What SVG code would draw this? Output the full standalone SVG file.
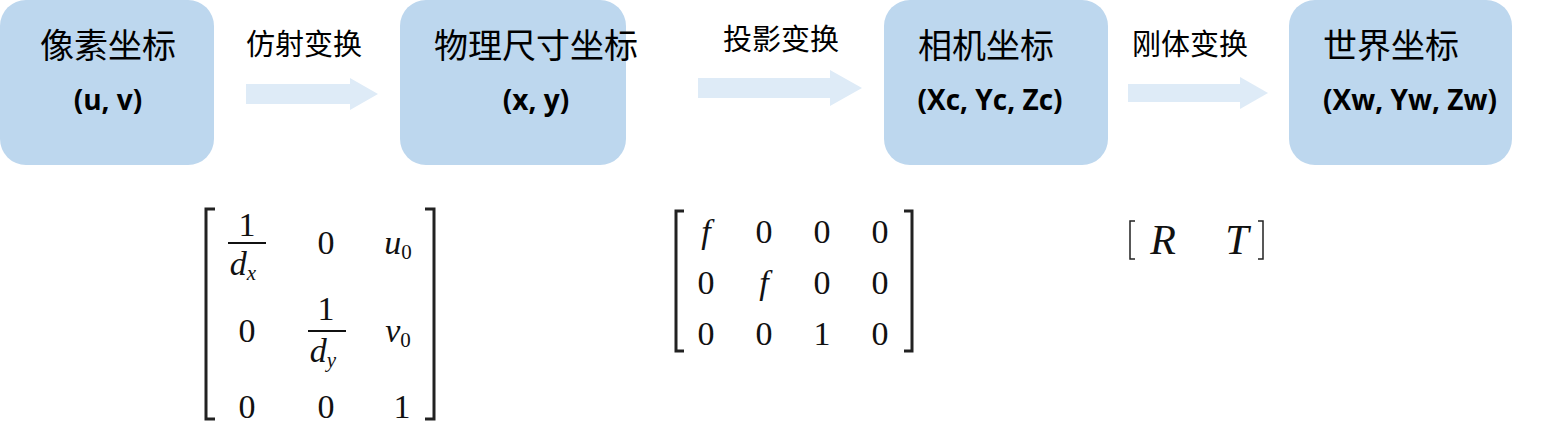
<svg xmlns="http://www.w3.org/2000/svg" width="1550" height="431" viewBox="0 0 1550 431">
<style>
.box{fill:#BDD7EE}
.arr{fill:#DEEBF7}
.t{font-family:"Noto Sans CJK SC","Noto Sans",sans-serif;font-size:34px;fill:#000;text-anchor:middle}
.s{font-family:"Open Sans","Noto Sans",sans-serif;font-weight:bold;font-size:28px;fill:#000;text-anchor:middle}
.l{font-family:"Noto Sans CJK SC",sans-serif;font-size:29px;fill:#000;text-anchor:middle}
.m{font-family:"Liberation Serif","DejaVu Serif",serif;font-size:34px;fill:#111;text-anchor:middle}
.mi{font-style:italic}
.sub{font-size:21px}
.br{fill:none;stroke:#222;stroke-width:3}
.big{font-size:42px}
.thin{stroke-width:1.5}
</style>
<rect width="1550" height="431" fill="#fff"/>
<g id="connectors">
<polygon class="arr" points="246,84 350,84 350,78 378,94 350,110 350,104 246,104"/>
<polygon class="arr" points="698,78 830,78 830,70 862,88 830,106 830,98 698,98"/>
<polygon class="arr" points="1128,84 1240,84 1240,77 1268,93 1240,109 1240,102 1128,102"/>
<text class="l" x="304" y="55">仿射变换</text>
<text class="l" x="781" y="50">投影变换</text>
<text class="l" x="1190" y="55">刚体变换</text>
</g>
<g id="n1"><rect class="box" x="0" y="0" width="214" height="165" rx="26"/><text class="t" x="108" y="58">像素坐标</text><text class="s" x="108" y="110">(u, v)</text></g>
<g id="n2"><rect class="box" x="400" y="0" width="226" height="165" rx="26"/><text class="t" x="536" y="58">物理尺寸坐标</text><text class="s" x="536" y="110">(x, y)</text></g>
<g id="n3"><rect class="box" x="884" y="0" width="224" height="165" rx="26"/><text class="t" x="986" y="58">相机坐标</text><text class="s" x="990" y="110">(Xc, Yc, Zc)</text></g>
<g id="n4"><rect class="box" x="1289" y="0" width="223" height="165" rx="26"/><text class="t" x="1391" y="58">世界坐标</text><text class="s" x="1410" y="110">(Xw, Yw, Zw)</text></g>
<g id="matrix1">
<path class="br" d="M215,209 H206 V419 H215"/>
<path class="br" d="M425,209 H434 V419 H425"/>
<text class="m" x="247" y="236">1</text><line x1="228" y1="243" x2="266" y2="243" stroke="#111" stroke-width="2"/>
<text class="m mi" x="243" y="275">d<tspan class="sub" dy="5">x</tspan></text>
<text class="m" x="326" y="254">0</text>
<text class="m mi" x="398" y="254">u<tspan class="sub" dy="5" font-style="normal">0</tspan></text>
<text class="m" x="247" y="342">0</text>
<text class="m" x="326" y="320">1</text><line x1="308" y1="331" x2="346" y2="331" stroke="#111" stroke-width="2"/>
<text class="m mi" x="323" y="362">d<tspan class="sub" dy="5">y</tspan></text>
<text class="m mi" x="398" y="342">v<tspan class="sub" dy="5" font-style="normal">0</tspan></text>
<text class="m" x="247" y="418">0</text><text class="m" x="326" y="418">0</text><text class="m" x="402" y="418">1</text>
</g>
<g id="matrix2">
<path class="br" d="M684,211 H676 V351 H684"/>
<path class="br" d="M904,211 H912 V351 H904"/>
<text class="m mi" x="706" y="243">f</text><text class="m" x="764" y="243">0</text><text class="m" x="822" y="243">0</text><text class="m" x="880" y="243">0</text>
<text class="m" x="706" y="294">0</text><text class="m mi" x="764" y="294">f</text><text class="m" x="822" y="294">0</text><text class="m" x="880" y="294">0</text>
<text class="m" x="706" y="345">0</text><text class="m" x="764" y="345">0</text><text class="m" x="822" y="345">1</text><text class="m" x="880" y="345">0</text>
</g>
<g id="rt">
<path class="br thin" d="M1135,221 H1130 V259 H1135"/>
<path class="br thin" d="M1258,221 H1263 V259 H1258"/>
<text class="m mi big" x="1163" y="254">R</text>
<text class="m mi big" x="1237" y="254">T</text>
</g>
</svg>
